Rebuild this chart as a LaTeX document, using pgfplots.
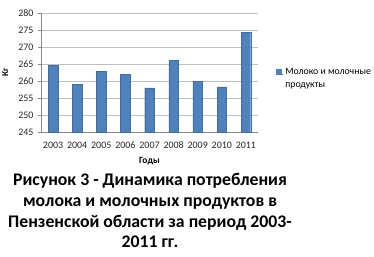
\documentclass[border=0pt]{standalone}
\usepackage{fontspec}
\setmainfont{Carlito}
\usepackage{pgfplots}
\pgfplotsset{compat=1.18}
\definecolor{barblue}{HTML}{4F81BD}
\definecolor{gridgray}{HTML}{BFBFBF}
\definecolor{axgray}{HTML}{868686}
\begin{document}
\begin{tikzpicture}[x=1bp,y=1bp]
\useasboundingbox (0,0) rectangle (374,-257);
\begin{axis}[
  at={(41bp,-132bp)}, anchor=south west,
  scale only axis, width=217bp, height=119bp,
  ymin=245, ymax=280, ytick={245,250,...,280},
  xmin=-0.5, xmax=8.5, xtick={0,...,8},
  xticklabels={2003,2004,2005,2006,2007,2008,2009,2010,2011},
  /pgf/number format/assume math mode=true,
  ticklabel style={font=\fontsize{10}{12}\selectfont, text=black!85},
  yticklabel style={xshift=-1bp},
  xticklabel style={text height=7bp, text depth=0pt, yshift=-3bp},
  axis x line*=bottom, axis y line*=left,
  axis line style={axgray, line width=0.6pt, -},
  x tick style={draw=none},
  y tick style={axgray},
  tick align=outside, major tick length=3bp,
  ymajorgrids, grid style={gridgray, line width=0.5pt},
  ybar, bar width=9.5bp,
  ylabel={\bfseries Кг}, ylabel style={font=\fontsize{9}{11}\selectfont, at={(axis description cs:-0.135,0.5)}},
  xlabel={\bfseries Годы}, xlabel style={font=\fontsize{9.5}{11}\selectfont, yshift=-2bp},
  legend style={draw=none, at={(1.08,0.45)}, anchor=west, font=\fontsize{9.8}{13}\selectfont,
    nodes={align=left}, legend cell align=left, inner sep=0pt},
  legend image code/.code={\path (0bp,4bp) -- (7.5bp,4bp); \fill[barblue] (0bp,4bp) rectangle (5bp,9bp);},
]
\addplot[fill=barblue, draw=barblue!85!black, line width=0.3pt] coordinates {
(0,264.7) (1,259.0) (2,262.8) (3,262.0) (4,258.0) (5,266.0) (6,260.0) (7,258.3) (8,274.3)};
\addlegendentry{Молоко и молочные\\продукты}
\end{axis}
\begin{scope}[every node/.style={font=\bfseries\fontsize{17.8}{20}\selectfont, inner sep=0pt, anchor=base}]
\node at (150,-185) {Рисунок 3 - Динамика потребления};
\node at (150,-206) {молока и молочных продуктов в};
\node at (150,-227) {Пензенской области за период 2003-};
\node at (150,-247.5) {2011 гг.};
\end{scope}
\end{tikzpicture}
\end{document}
